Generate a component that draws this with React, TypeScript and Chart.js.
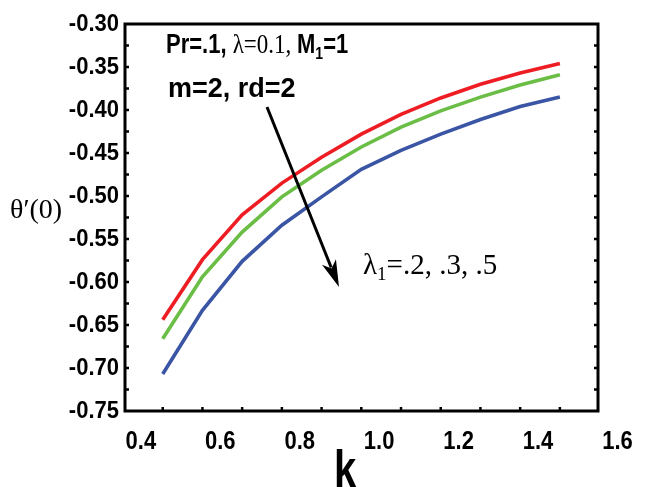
import React, { useEffect, useRef } from 'react';
import { Chart, registerables } from 'chart.js';

Chart.register(...registerables);

// Skin-friction parameter k on the horizontal axis
const kValues = [0.45, 0.55, 0.65, 0.75, 0.85, 0.95, 1.05, 1.15, 1.25, 1.35, 1.45];

// θ'(0) for λ1 = .2, .3, .5
const thetaLambda02 = [-0.644, -0.574, -0.522, -0.485, -0.455, -0.428, -0.405, -0.386, -0.370, -0.357, -0.346];
const thetaLambda03 = [-0.666, -0.594, -0.542, -0.501, -0.470, -0.443, -0.420, -0.401, -0.385, -0.371, -0.359];
const thetaLambda05 = [-0.707, -0.633, -0.576, -0.534, -0.501, -0.469, -0.447, -0.428, -0.411, -0.396, -0.385];

const xTickLabels = ['0.4', '0.6', '0.8', '1.0', '1.2', '1.4', '1.6'];
const yTickLabels = ['-0.30', '-0.35', '-0.40', '-0.45', '-0.50', '-0.55', '-0.60', '-0.65', '-0.70', '-0.75'];
const xTickMarks = [0.45, 0.55, 0.65, 0.75, 0.85, 0.95, 1.05, 1.15, 1.25, 1.35, 1.45];

const SANS = '"Liberation Sans", Arial, sans-serif';
const SERIF = '"Liberation Serif", "Times New Roman", serif';

function stretchedText(ctx: CanvasRenderingContext2D, text: string, x: number, y: number, sy: number) {
  ctx.save();
  ctx.translate(x, y);
  ctx.scale(1, sy);
  ctx.fillText(text, 0, 0);
  ctx.restore();
}

// draws a run of text pieces left to right; each piece has its own font and baseline shift
function textRun(
  ctx: CanvasRenderingContext2D,
  parts: { t: string; f: string; dy?: number }[],
  x: number,
  y: number,
  sy = 1,
) {
  ctx.save();
  ctx.translate(x, y);
  ctx.scale(1, sy);
  let cx = 0;
  ctx.textAlign = 'left';
  ctx.textBaseline = 'alphabetic';
  for (const p of parts) {
    ctx.font = p.f;
    ctx.fillText(p.t, cx, p.dy || 0);
    cx += ctx.measureText(p.t).width;
  }
  ctx.restore();
}

const frameAndNotes = {
  id: 'frameAndNotes',
  afterDatasetsDraw(chart: any) {
    const { ctx, chartArea: a, scales } = chart;
    const xs = scales.x;
    const ys = scales.y;
    ctx.save();
    ctx.strokeStyle = '#000';
    ctx.fillStyle = '#000';

    // frame
    ctx.lineWidth = 3;
    ctx.strokeRect(a.left, a.top, a.right - a.left, a.bottom - a.top);

    // inward tick marks
    ctx.lineWidth = 2.5;
    ctx.beginPath();
    for (let i = 1; i < 18; i++) {
      const py = ys.getPixelForValue(-0.75 + i * 0.025);
      ctx.moveTo(a.left, py);
      ctx.lineTo(a.left + 4, py);
      ctx.moveTo(a.right, py);
      ctx.lineTo(a.right - 4, py);
    }
    for (const v of xTickMarks) {
      const px = xs.getPixelForValue(v);
      ctx.moveTo(px, a.bottom);
      ctx.lineTo(px, a.bottom - 4);
    }
    ctx.stroke();

    // y tick labels
    ctx.font = `bold 22px ${SANS}`;
    ctx.textAlign = 'right';
    ctx.textBaseline = 'middle';
    for (const lbl of yTickLabels) {
      stretchedText(ctx, lbl, a.left - 6, ys.getPixelForValue(parseFloat(lbl)) + 1, 1.05);
    }

    // x tick labels
    ctx.font = `bold 22px ${SANS}`;
    ctx.textAlign = 'center';
    ctx.textBaseline = 'middle';
    for (const lbl of xTickLabels) {
      stretchedText(ctx, lbl, xs.getPixelForValue(parseFloat(lbl)) - 2, a.bottom + 31, 1.2);
    }

    // axis titles
    ctx.font = `bold 40px ${SANS}`;
    ctx.textAlign = 'center';
    ctx.textBaseline = 'alphabetic';
    stretchedText(ctx, 'k', 345, 487, 1.3);

    ctx.font = `28px ${SERIF}`;
    ctx.textAlign = 'left';
    ctx.textBaseline = 'middle';
    ctx.fillText('θ′(0)', 10, 211);

    // parameter notes
    const bold = `bold 22px ${SANS}`;
    const serif = `23px ${SERIF}`;
    textRun(ctx, [
      { t: 'Pr=.1, ', f: bold },
      { t: 'λ=0.1, ', f: serif },
      { t: 'M', f: bold },
      { t: '1', f: `bold 14px ${SANS}`, dy: 5 },
      { t: '=1', f: bold },
    ], 166, 53, 1.22);
    textRun(ctx, [{ t: 'm=2, rd=2', f: `bold 27px ${SANS}` }], 168, 97);

    textRun(ctx, [
      { t: 'λ', f: `29px ${SERIF}` },
      { t: '1', f: `19px ${SERIF}`, dy: 6 },
      { t: '=.2, .3, .5', f: `29px ${SERIF}` },
    ], 363, 274);

    // arrow showing increasing λ1
    const x0 = 267, y0 = 107, x1 = 339, y1 = 287;
    const ang = Math.atan2(y1 - y0, x1 - x0);
    const headLen = 27, headHalf = 7.5;
    const bx = x1 - headLen * Math.cos(ang);
    const by = y1 - headLen * Math.sin(ang);
    ctx.lineWidth = 3;
    ctx.beginPath();
    ctx.moveTo(x0, y0);
    ctx.lineTo(bx + 6 * Math.cos(ang), by + 6 * Math.sin(ang));
    ctx.stroke();
    const nx = -Math.sin(ang), ny = Math.cos(ang);
    ctx.beginPath();
    ctx.moveTo(x1, y1);
    ctx.lineTo(bx + headHalf * nx, by + headHalf * ny);
    ctx.lineTo(bx + 7 * Math.cos(ang), by + 7 * Math.sin(ang));
    ctx.lineTo(bx - headHalf * nx, by - headHalf * ny);
    ctx.closePath();
    ctx.fill();

    ctx.restore();
  },
};

export default function App() {
  const canvasRef = useRef<HTMLCanvasElement | null>(null);

  useEffect(() => {
    const canvas = canvasRef.current;
    if (!canvas) return;
    const series = (vals: number[]) => kValues.map((k, i) => ({ x: k, y: vals[i] }));
    const chart = new Chart(canvas, {
      type: 'line',
      data: {
        datasets: [
          { label: 'λ1=.5', data: series(thetaLambda05), borderColor: '#3b55a5', borderWidth: 3.6, pointRadius: 0, tension: 0 },
          { label: 'λ1=.3', data: series(thetaLambda03), borderColor: '#6abd45', borderWidth: 3.6, pointRadius: 0, tension: 0 },
          { label: 'λ1=.2', data: series(thetaLambda02), borderColor: '#ee1d24', borderWidth: 3.6, pointRadius: 0, tension: 0 },
        ],
      },
      options: {
        responsive: false,
        animation: false,
        events: [],
        layout: { padding: { left: 125, right: 48, top: 24, bottom: 76 } },
        scales: {
          x: { type: 'linear', min: 0.355, max: 1.546, display: false },
          y: { type: 'linear', min: -0.75, max: -0.3, display: false },
        },
        plugins: { legend: { display: false }, tooltip: { enabled: false } },
      },
      plugins: [frameAndNotes],
    });
    return () => chart.destroy();
  }, []);

  return (
    <div style={{ position: 'absolute', left: 0, top: 0, width: 646, height: 487, background: '#fff' }}>
      <canvas ref={canvasRef} width={646} height={487} style={{ display: 'block' }} />
    </div>
  );
}
